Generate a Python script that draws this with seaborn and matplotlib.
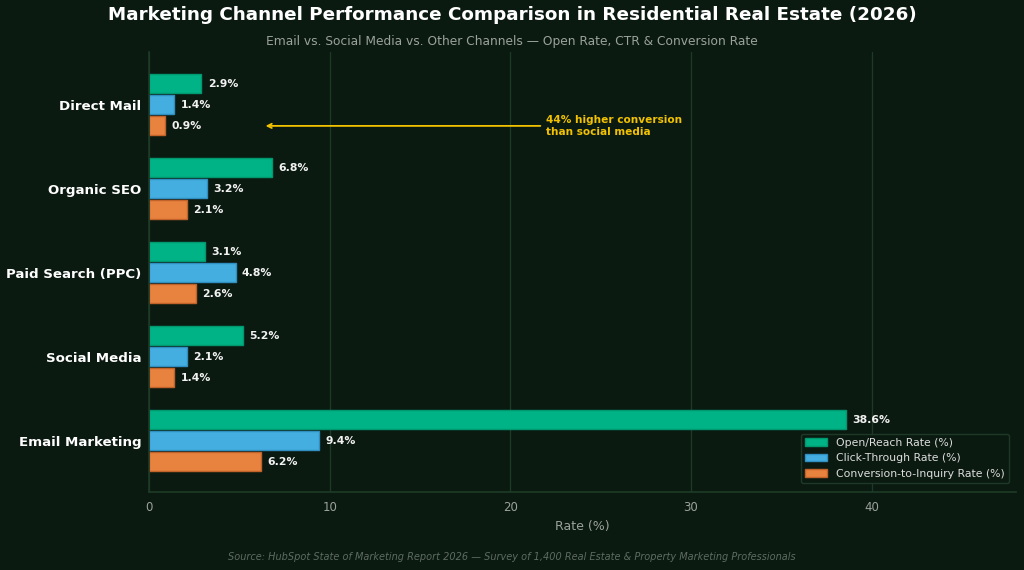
import matplotlib
matplotlib.use("Agg")
import matplotlib.pyplot as plt
import seaborn as sns
import pandas as pd

channels = ["Direct Mail", "Organic SEO", "Paid Search (PPC)", "Social Media", "Email Marketing"]
open_rate = [2.9, 6.8, 3.1, 5.2, 38.6]
ctr = [1.4, 3.2, 4.8, 2.1, 9.4]
conversion = [0.9, 2.1, 2.6, 1.4, 6.2]
metrics = ["Open/Reach Rate (%)", "Click-Through Rate (%)", "Conversion-to-Inquiry Rate (%)"]
x_ticks = [0, 10, 20, 30, 40]

BG = "#0b1a11"
colors = ["#00b386", "#45aee0", "#e8823f"]
edges = ["#00996f", "#2f8fc0", "#c0622a"]

rows = []
for i, ch in enumerate(channels):
    for m, vals in zip(metrics, [open_rate, ctr, conversion]):
        rows.append({"Channel": ch, "Metric": m, "Value": vals[i]})
df = pd.DataFrame(rows)

sns.set_theme(style="dark")
plt.rcParams["font.family"] = ["DejaVu Sans"]

fig = plt.figure(figsize=(10.24, 5.7), dpi=100, facecolor=BG)
ax = fig.add_axes([149/1024, 1-492/570, (1016-149)/1024, (492-52)/570])
ax.set_facecolor(BG)

sns.barplot(data=df, y="Channel", x="Value", hue="Metric", order=channels,
            hue_order=metrics, palette=colors, orient="h", width=0.75, gap=0.1,
            ax=ax, errorbar=None, saturation=1)

for cont, ec in zip(ax.containers, edges):
    for bar in cont:
        bar.set_edgecolor(ec)
        bar.set_linewidth(1)
    ax.bar_label(cont, labels=[f"{b.get_width():.1f}%" for b in cont], padding=4.5,
                 color="#f2f2f2", fontsize=7.8, fontweight="bold")

ax.set_xlim(0, 48)
ax.set_ylim(4.61, -0.63)
ax.set_xticks(x_ticks)
ax.grid(axis="x", color="#1e3a26", linewidth=0.9)
ax.grid(axis="y", visible=False)
ax.set_axisbelow(True)
for s in ["top", "right"]:
    ax.spines[s].set_visible(False)
for s in ["left", "bottom"]:
    ax.spines[s].set_visible(True)
    ax.spines[s].set_color("#1e3a26")
ax.tick_params(axis="x", colors="#9aa29c", labelsize=8.5, length=3, color="#3a5a42")
ax.tick_params(axis="y", colors="#ffffff", labelsize=9.6, length=2.5, pad=3, color="#3a5a42")
for lab in ax.get_yticklabels():
    lab.set_fontweight("bold")
ax.set_ylabel("")
ax.set_xlabel("Rate (%)", color="#9aa29c", fontsize=9, labelpad=4)

leg = ax.legend(loc="lower right", fontsize=7.8, frameon=True, facecolor=BG,
                edgecolor="#1e3a26", labelcolor="#dddddd", handlelength=2.0,
                bbox_to_anchor=(0.998, 0.008))
leg.get_frame().set_alpha(1)
for h, ec in zip(leg.legend_handles, edges):
    h.set_edgecolor(ec)

ax.annotate("44% higher conversion\nthan social media", xy=(6.3, 0.25), xytext=(22, 0.25),
            color="#f2c200", fontsize=7.6, fontweight="bold", va="center", ha="left",
            arrowprops=dict(arrowstyle="->", color="#f2c200", lw=1.3))

fig.text(0.5, 1-15/570, "Marketing Channel Performance Comparison in Residential Real Estate (2026)",
         ha="center", va="center", color="#ffffff", fontsize=13.2, fontweight="bold")
fig.text(0.5, 1-42/570, "Email vs. Social Media vs. Other Channels \u2014 Open Rate, CTR & Conversion Rate",
         ha="center", va="center", color="#9aa29c", fontsize=8.8)
fig.text(0.5, 1-557/570, "Source: HubSpot State of Marketing Report 2026 \u2014 Survey of 1,400 Real Estate & Property Marketing Professionals",
         ha="center", va="center", color="#5d6b60", fontsize=7, style="italic")

fig.savefig("out.png", dpi=100, facecolor=BG)
